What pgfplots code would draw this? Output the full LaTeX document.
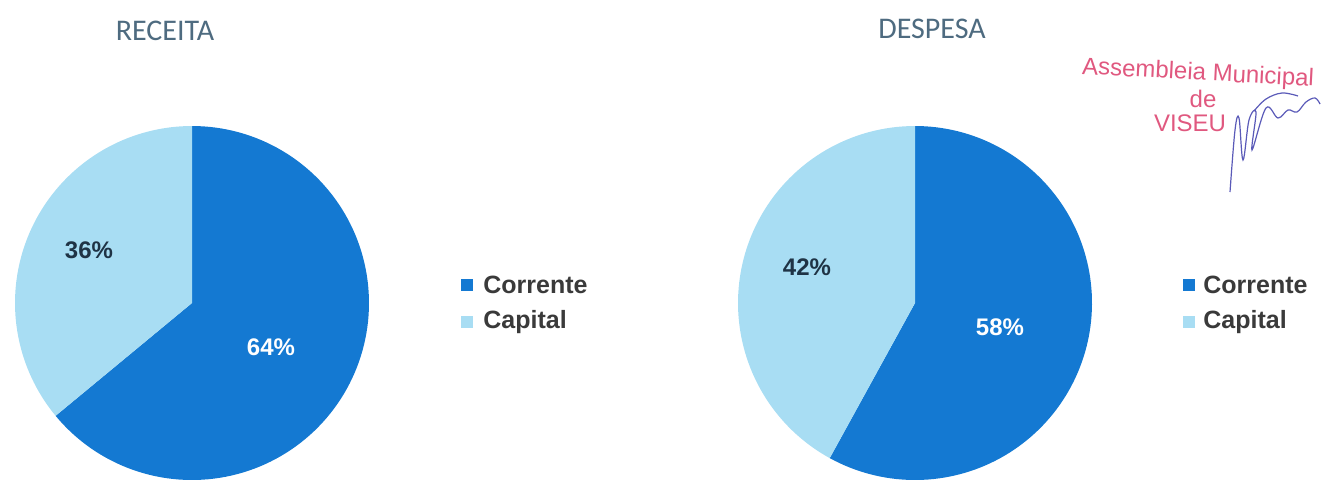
\documentclass[border=0pt]{standalone}
\usepackage{pgfplots}
\pgfplotsset{compat=1.18}
\usepackage{pgfplotstable}
\usepackage{fontspec}
\setmainfont{Liberation Sans}
\newfontfamily\calibri{Carlito}

\definecolor{corrente}{HTML}{1479D2}
\definecolor{capital}{HTML}{A8DDF3}
\definecolor{titulo}{HTML}{4E6B80}
\definecolor{rotulo}{HTML}{1F3345}
\definecolor{legtxt}{HTML}{3A3A3A}
\definecolor{carimbo}{HTML}{E0587F}
\definecolor{assin}{HTML}{5A5AB8}

% percentagens de cada grafico
\pgfplotstableread{
grafico corrente capital
RECEITA 64 36
DESPESA 58 42
}\dados

\pgfplotstablegetelem{0}{corrente}\of\dados \let\rcor\pgfplotsretval
\pgfplotstablegetelem{0}{capital}\of\dados \let\rcap\pgfplotsretval
\pgfplotstablegetelem{1}{corrente}\of\dados \let\dcor\pgfplotsretval
\pgfplotstablegetelem{1}{capital}\of\dados \let\dcap\pgfplotsretval

\tikzset{
  leg/.style={anchor=west, inner sep=0pt, text=legtxt, font=\bfseries\fontsize{12.5}{12.5}\selectfont},
  sq/.style={minimum size=6pt, inner sep=0pt},
  pct/.style={font=\bfseries\fontsize{12}{12}\selectfont},
  stamp/.style={text=carimbo, inner sep=0pt, font=\fontsize{12}{12}\selectfont},
}

\begin{document}
\begin{tikzpicture}
\begin{axis}[
    width=660.5pt, height=239.5pt, scale only axis,
    xmin=0, xmax=1321, ymin=0, ymax=479,
    hide axis, clip=true,
  ]
  % RECEITA
  \addplot[fill=corrente, draw=none, domain={90-3.6*\rcor}:90, samples=121, variable=\t]
    ({192+177*cos(t)}, {176+177*sin(t)}) -- (192,176) -- cycle;
  \addplot[fill=capital, draw=none, domain=90:{90+3.6*\rcap}, samples=81, variable=\t]
    ({192+177*cos(t)}, {176+177*sin(t)}) -- (192,176) -- cycle;
  % DESPESA
  \addplot[fill=corrente, draw=none, domain={90-3.6*\dcor}:90, samples=121, variable=\t]
    ({915+177*cos(t)}, {176+177*sin(t)}) -- (915,176) -- cycle;
  \addplot[fill=capital, draw=none, domain=90:{90+3.6*\dcap}, samples=81, variable=\t]
    ({915+177*cos(t)}, {176+177*sin(t)}) -- (915,176) -- cycle;

  % titulos
  \node[text=titulo, font=\calibri\fontsize{15}{15}\selectfont] at (165,448) {RECEITA};
  \node[text=titulo, font=\calibri\fontsize{15}{15}\selectfont] at (932,450) {DESPESA};

  % rotulos
  \node[pct, text=rotulo] at (89,229) {36\%};
  \node[pct, text=white] at (271,132) {64\%};
  \node[pct, text=rotulo] at (807,212) {42\%};
  \node[pct, text=white] at (1000,152) {58\%};

  % legendas
  \node[sq, fill=corrente] at (467,194) {};
  \node[sq, fill=capital] at (467,157) {};
  \node[leg] at (483,194) {Corrente};
  \node[leg] at (483,157) {Capital};
  \node[sq, fill=corrente] at (1189,194) {};
  \node[sq, fill=capital] at (1189,157) {};
  \node[leg] at (1203,194) {Corrente};
  \node[leg] at (1203,157) {Capital};

  % carimbo
  \node[stamp, rotate=-3] at (1198,405) {Assembleia Municipal};
  \node[stamp] at (1203,380) {de};
  \node[stamp] at (1190,356) {VISEU};
  \draw[assin, line width=0.6pt] plot[smooth, tension=0.6] coordinates {
    (1230,287) (1235,349) (1239,361) (1243,319) (1249,359) (1256,367)
    (1252,329) (1266,371) (1278,361) (1288,369) (1297,367) (1306,377)
    (1315,381) (1320,375)};
  \draw[assin, line width=0.6pt] plot[smooth, tension=0.6] coordinates {
    (1254,368) (1266,380) (1282,386) (1298,383)};
\end{axis}
\pgfresetboundingbox
\path (current axis.south west) rectangle (current axis.north east);
\end{tikzpicture}
\end{document}
